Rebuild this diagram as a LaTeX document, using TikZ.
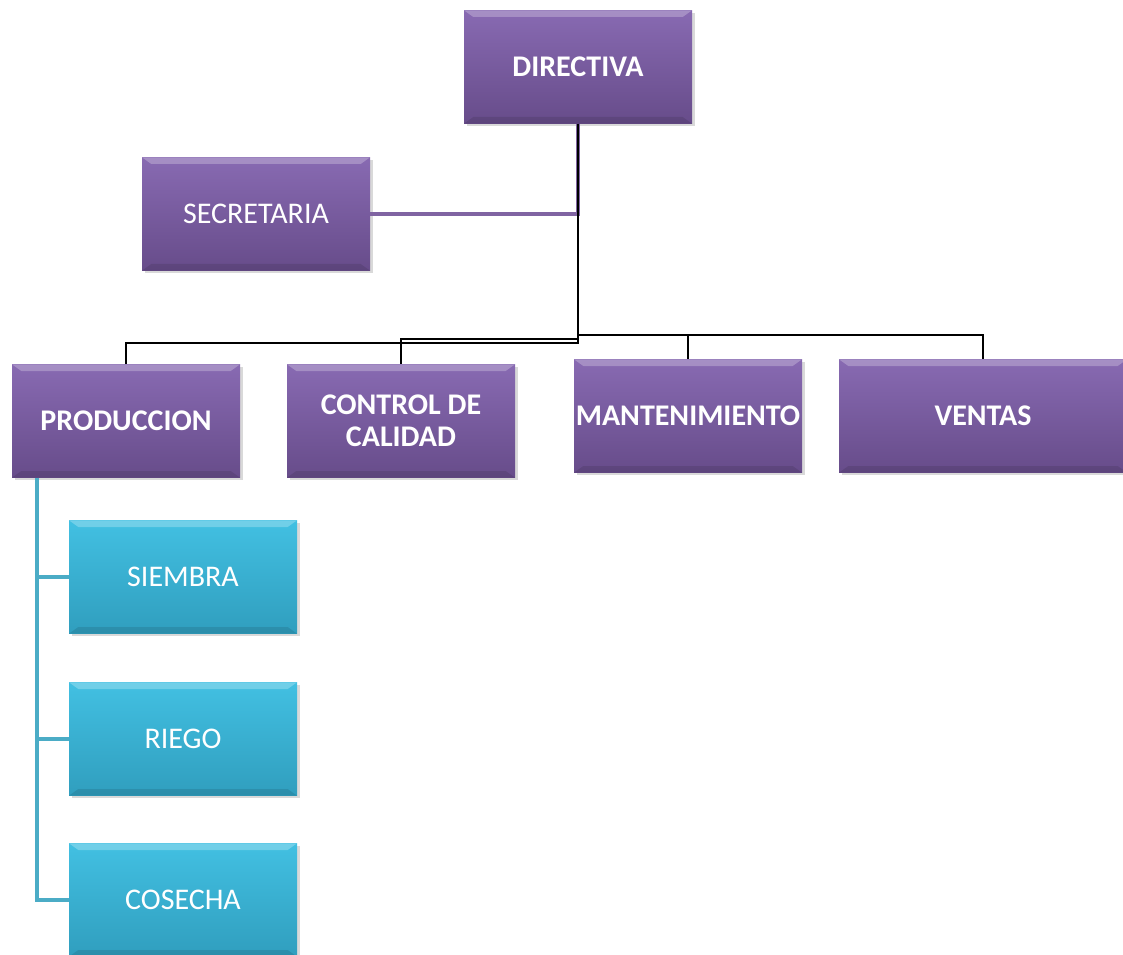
\documentclass[tikz,border=0pt]{standalone}
\usepackage{fontspec}
\setmainfont{Carlito}
\usetikzlibrary{calc, shadows}

\definecolor{boxtop}{RGB}{136,106,178}
\definecolor{boxbottom}{RGB}{103,76,138}
\definecolor{subtop}{RGB}{66,192,226}
\definecolor{subbottom}{RGB}{48,158,190}
\definecolor{secline}{RGB}{128,100,162}
\definecolor{subline}{RGB}{75,172,198}

\tikzset{
	bevel/.style={path picture={
		\fill[white, opacity=0.25] (path picture bounding box.north west) -- (path picture bounding box.north east)
			-- ++(-7pt,-5pt) -- ($(path picture bounding box.north west)+(7pt,-5pt)$) -- cycle;
		\fill[black, opacity=0.1] (path picture bounding box.south west) -- (path picture bounding box.south east)
			-- ++(-7pt,5pt) -- ($(path picture bounding box.south west)+(7pt,5pt)$) -- cycle;
	}},
	unitbox/.style={rectangle, minimum width=171pt, minimum height=85pt, inner sep=0pt,
		align=center, text=white, font=\fontsize{22.5}{24}\selectfont, bevel,
		drop shadow={shadow xshift=2pt, shadow yshift=-2pt, opacity=0.3}},
	mainbox/.style={unitbox, top color=boxtop, bottom color=boxbottom, font=\fontsize{22.5}{24}\selectfont\bfseries},
	staffbox/.style={unitbox, top color=boxtop, bottom color=boxbottom},
	subbox/.style={unitbox, top color=subtop, bottom color=subbottom},
	orgline/.style={draw=black, line width=1.5pt},
}

\begin{document}
\begin{tikzpicture}[x=0.75pt, y=-0.75pt]
	\useasboundingbox (0,0) rectangle (1123,955);
	
	\coordinate (bus prod) at (0,343);
	\coordinate (bus cal) at (0,339);
	\coordinate (bus right) at (0,335);
	\coordinate (rail) at (37,0);
	
	\node [mainbox] (directiva) at (578,67) {DIRECTIVA};
	\node [staffbox] (secretaria) at (256,214) {SECRETARIA};
	
	\node [mainbox] (produccion) at (126,421) {PRODUCCION};
	\node [mainbox] (calidad) at (401,421) {CONTROL DE\\CALIDAD};
	\node [mainbox] (mantenimiento) at (688,416) {MANTENIMIENTO};
	\node [mainbox, minimum width=216pt] (ventas) at (983,416) {VENTAS};
	
	\node [subbox] (siembra) at (183,577) {SIEMBRA};
	\node [subbox] (riego) at (183,739) {RIEGO};
	\node [subbox] (cosecha) at (183,900) {COSECHA};
	
	%staff line
	\draw [secline, line width=3pt] (directiva.south) |- (secretaria.east);
	
	%directiva to departments
	\draw [orgline] (directiva.south) -- (directiva.south |- bus prod) -| (produccion.north);
	\draw [orgline] (directiva.south |- bus cal) -| (calidad.north);
	\draw [orgline] (directiva.south) -- (directiva.south |- bus right) -| (mantenimiento.north);
	\draw [orgline] (directiva.south |- bus right) -| (ventas.north);
	
	%produccion to its units
	\draw [subline, line width=3pt] (produccion.south -| rail) |- (cosecha.west);
	\draw [subline, line width=3pt] (rail |- siembra.west) -- (siembra.west);
	\draw [subline, line width=3pt] (rail |- riego.west) -- (riego.west);
\end{tikzpicture}
\end{document}
